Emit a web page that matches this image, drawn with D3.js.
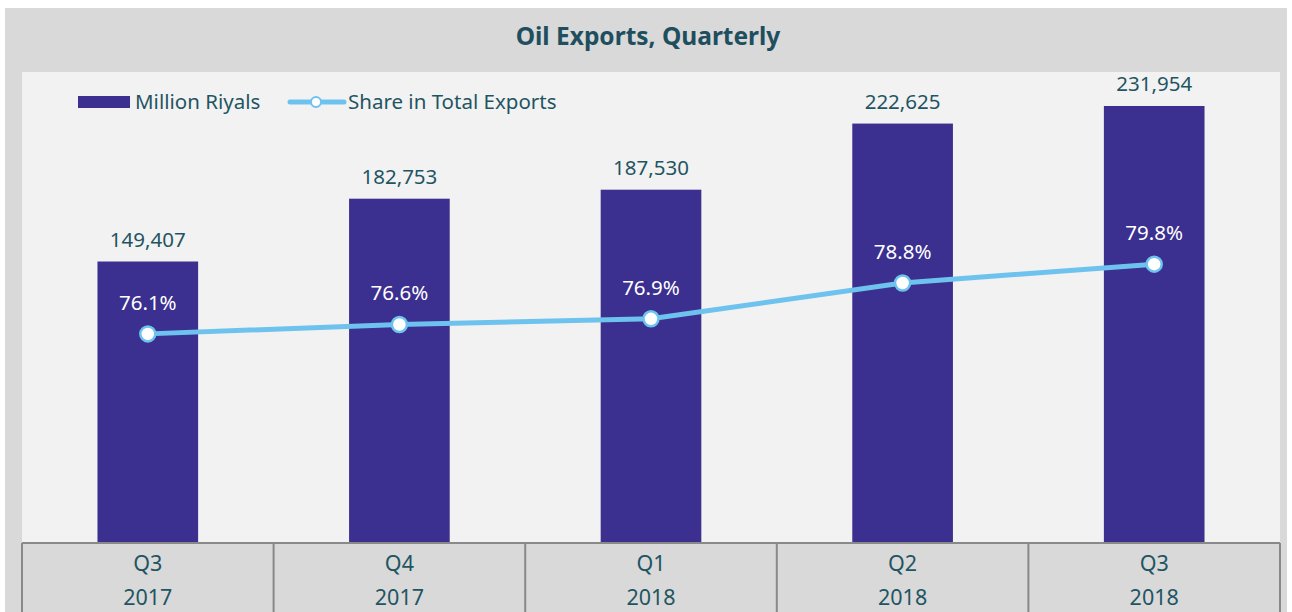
<!DOCTYPE html>
<html>
<head>
<meta charset="utf-8">
<script src="https://cdn.jsdelivr.net/npm/d3@7"></script>
<style>
  body { margin: 0; background: #fff; }
  svg { display: block; font-family: "Noto Sans", sans-serif; }
</style>
</head>
<body>
<svg id="chart"></svg>
<script>
const quarters = ["Q3", "Q4", "Q1", "Q2", "Q3"];
const years = ["2017", "2017", "2018", "2018", "2018"];
const riyals = [149407, 182753, 187530, 222625, 231954];
const share = [76.1, 76.6, 76.9, 78.8, 79.8];

const width = 1292;
const height = 612;
const plotLeft = 22;
const plotRight = 1280;
const plotTop = 72;
const plotBottom = 543;

const data = quarters.map((q, i) => ({
  key: i,
  q: q,
  year: years[i],
  val: riyals[i],
  pct: share[i]
}));

const svg = d3.select("#chart")
  .attr("width", width)
  .attr("height", height)
  .attr("viewBox", [0, 0, width, height]);

// фон
svg.append("rect")
  .attr("x", 5).attr("y", 8)
  .attr("width", 1282).attr("height", height - 8)
  .attr("fill", "#d9d9d9");

svg.append("rect")
  .attr("x", plotLeft).attr("y", plotTop)
  .attr("width", plotRight - plotLeft).attr("height", plotBottom - plotTop)
  .attr("fill", "#f2f2f2");

svg.append("text")
  .attr("x", width / 2 + 2).attr("y", 45)
  .attr("text-anchor", "middle")
  .attr("fill", "#1f4f5e")
  .style("font-size", "24.5px")
  .style("font-weight", "bold")
  .text("Oil Exports, Quarterly");

// шкалы
const x = d3.scaleBand(data.map(d => d.key), [plotLeft, plotRight])
  .paddingInner(0.6).paddingOuter(0.3);
const xc = i => x(i) + x.bandwidth() / 2;
const y = d3.scaleLinear([0, 250000], [plotBottom, plotTop]);
const y2 = d3.scaleLinear([65, 90], [plotBottom, plotTop]);

// столбцы
svg.append("g")
  .selectAll("rect")
  .data(data)
  .join("rect")
  .attr("x", d => x(d.key))
  .attr("y", d => y(d.val))
  .attr("width", x.bandwidth())
  .attr("height", d => y(0) - y(d.val))
  .attr("fill", "#3b2f8f");

svg.append("g")
  .selectAll("text")
  .data(data)
  .join("text")
  .attr("x", d => xc(d.key))
  .attr("y", d => y(d.val) - 15)
  .attr("text-anchor", "middle")
  .attr("fill", "#1f5563")
  .style("font-size", "20.5px")
  .text(d => d3.format(",")(d.val));

// линия
const line = d3.line()
  .x(d => xc(d.key))
  .y(d => y2(d.pct));

svg.append("path")
  .datum(data)
  .attr("d", line)
  .attr("fill", "none")
  .attr("stroke", "#6ec3ee")
  .attr("stroke-width", 5);

svg.append("g")
  .selectAll("circle")
  .data(data)
  .join("circle")
  .attr("cx", d => xc(d.key))
  .attr("cy", d => y2(d.pct))
  .attr("r", 7.5)
  .attr("fill", "#fff")
  .attr("stroke", "#6ec3ee")
  .attr("stroke-width", 2.5);

svg.append("g")
  .selectAll("text")
  .data(data)
  .join("text")
  .attr("x", d => xc(d.key))
  .attr("y", d => y2(d.pct) - 24)
  .attr("text-anchor", "middle")
  .attr("fill", "#fff")
  .style("font-size", "20.5px")
  .text(d => d.pct.toFixed(1) + "%");

// ось X в виде таблицы
const axis = svg.append("g");
const step = (plotRight - plotLeft) / data.length;
axis.append("line")
  .attr("x1", plotLeft).attr("x2", plotRight)
  .attr("y1", plotBottom).attr("y2", plotBottom)
  .attr("stroke", "#898989").attr("stroke-width", 2);
axis.selectAll(".sep")
  .data(d3.range(data.length + 1))
  .join("line")
  .attr("class", "sep")
  .attr("x1", i => plotLeft + i * step).attr("x2", i => plotLeft + i * step)
  .attr("y1", plotBottom).attr("y2", height)
  .attr("stroke", "#898989").attr("stroke-width", 2);
axis.selectAll(".q")
  .data(data)
  .join("text")
  .attr("class", "q")
  .attr("x", d => xc(d.key))
  .attr("y", 571)
  .attr("text-anchor", "middle")
  .attr("fill", "#1f5563")
  .style("font-size", "21.5px")
  .text(d => d.q);
axis.selectAll(".yr")
  .data(data)
  .join("text")
  .attr("class", "yr")
  .attr("x", d => xc(d.key))
  .attr("y", 605)
  .attr("text-anchor", "middle")
  .attr("fill", "#1f5563")
  .style("font-size", "21.5px")
  .text(d => d.year);

// легенда
const leg = svg.append("g");
leg.append("rect")
  .attr("x", 78).attr("y", 96)
  .attr("width", 52).attr("height", 12)
  .attr("fill", "#3b2f8f");
leg.append("text")
  .attr("x", 135).attr("y", 109)
  .attr("fill", "#1f5563")
  .style("font-size", "20.5px")
  .text("Million Riyals");
leg.append("line")
  .attr("x1", 290).attr("x2", 344)
  .attr("y1", 102).attr("y2", 102)
  .attr("stroke", "#6ec3ee").attr("stroke-width", 5)
  .attr("stroke-linecap", "round");
leg.append("circle")
  .attr("cx", 316).attr("cy", 102).attr("r", 5)
  .attr("fill", "#fff").attr("stroke", "#6ec3ee").attr("stroke-width", 2);
leg.append("text")
  .attr("x", 348).attr("y", 109)
  .attr("fill", "#1f5563")
  .style("font-size", "20.5px")
  .text("Share in Total Exports");
</script>
</body>
</html>
